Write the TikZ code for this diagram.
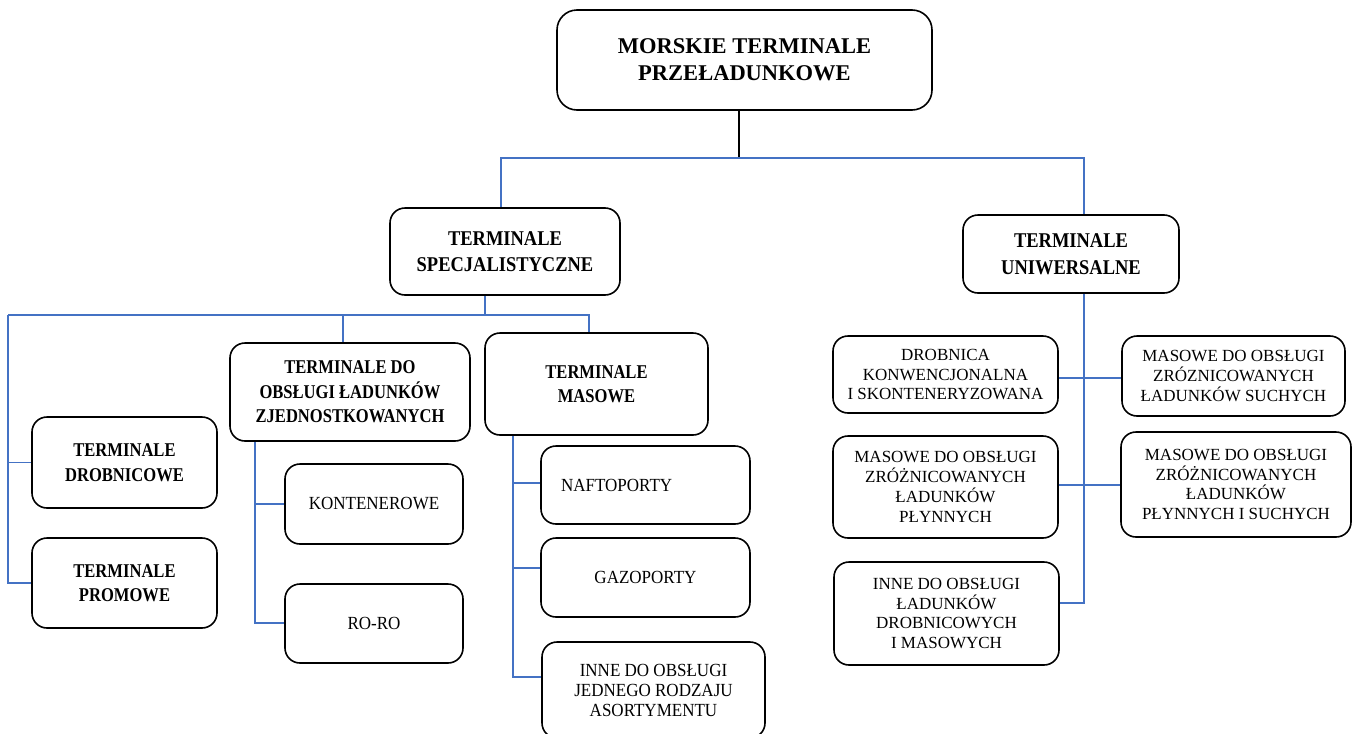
\documentclass[tikz,border=0pt]{standalone}
\usepackage{fontspec}
\setmainfont{Liberation Serif}
\newfontfamily\headfont[FakeStretch=0.88]{Liberation Serif}
\newfontfamily\lvlfont[FakeStretch=0.85]{Liberation Serif}
\newfontfamily\leftfont[FakeStretch=0.92]{Liberation Serif}
\definecolor{linkblue}{RGB}{68,114,196}
\tikzset{
  box/.style={draw, line width=1.6pt, rounded corners=15pt, align=center, inner sep=0pt,
    font=\fontsize{17}{19.8}\selectfont},
  leftbox/.style={box, font=\leftfont\fontsize{18.5}{20}\selectfont},
  boldbox/.style={box, font=\lvlfont\fontsize{19.5}{24.5}\selectfont\bfseries},
  headbox/.style={box, font=\headfont\fontsize{21}{26.5}\selectfont\bfseries},
  link/.style={draw=linkblue, line width=1.2pt},
}
\begin{document}
\begin{tikzpicture}[x=1pt,y=-1pt]
    \useasboundingbox (0,0) rectangle (1353,734);

    % Top
    \node[box, rounded corners=20pt, minimum width=375pt, minimum height=100pt,
      font=\fontsize{22.5}{27}\selectfont\bfseries] (main) at (744.5,60) {MORSKIE TERMINALE\\PRZEŁADUNKOWE};
    \node[headbox, minimum width=230pt, minimum height=87pt] (spec) at (505,251.5) {TERMINALE\\SPECJALISTYCZNE};
    \node[headbox, minimum width=216pt, minimum height=78pt] (uniw) at (1071,254) {TERMINALE\\UNIWERSALNE};

    % Specjalistyczne
    \node[boldbox, minimum width=185pt, minimum height=91pt] (drob) at (124.5,462.5) {TERMINALE\\DROBNICOWE};
    \node[boldbox, minimum width=185pt, minimum height=90pt] (prom) at (124.5,583) {TERMINALE\\PROMOWE};
    \node[boldbox, minimum width=240pt, minimum height=98pt] (zjed) at (350,392) {TERMINALE DO\\OBSŁUGI ŁADUNKÓW\\ZJEDNOSTKOWANYCH};
    \node[boldbox, minimum width=223pt, minimum height=102pt] (mas) at (596.5,384) {TERMINALE\\MASOWE};
    \node[leftbox, minimum width=178pt, minimum height=80pt] (kont) at (374,504) {KONTENEROWE};
    \node[leftbox, minimum width=178pt, minimum height=79pt] (roro) at (374,623.5) {RO-RO};
    \node[leftbox, minimum height=78pt, text width=169pt, inner xsep=20pt, align=left] (nafta) at (645.5,485) {NAFTOPORTY};
    \node[leftbox, minimum width=209pt, minimum height=79pt] (gaz) at (645.5,577.5) {GAZOPORTY};
    \node[leftbox, minimum width=223pt, minimum height=96pt] (jedn) at (653.5,690) {INNE DO OBSŁUGI\\JEDNEGO RODZAJU\\ASORTYMENTU};

    % Uniwersalne
    \node[box, minimum width=225pt, minimum height=77pt] (drobk) at (945.5,374.5) {DROBNICA\\KONWENCJONALNA\\I SKONTENERYZOWANA};
    \node[box, minimum width=223pt, minimum height=80pt] (msuch) at (1233.5,376) {MASOWE DO OBSŁUGI\\ZRÓZNICOWANYCH\\ŁADUNKÓW SUCHYCH};
    \node[box, minimum width=225pt, minimum height=102pt] (mplyn) at (945.5,487) {MASOWE DO OBSŁUGI\\ZRÓŻNICOWANYCH\\ŁADUNKÓW\\PŁYNNYCH};
    \node[box, minimum width=230pt, minimum height=105pt] (mboth) at (1236,484.5) {MASOWE DO OBSŁUGI\\ZRÓŻNICOWANYCH\\ŁADUNKÓW\\PŁYNNYCH I SUCHYCH};
    \node[box, minimum width=225pt, minimum height=103pt] (innem) at (946.5,613.5) {INNE DO OBSŁUGI\\ŁADUNKÓW\\DROBNICOWYCH\\I MASOWYCH};

    % Connectors
    \coordinate (top) at (739,158);
    \coordinate (sbus) at (485,315);
    \coordinate (lbus) at (8,315);
    \coordinate (zbus) at (255,623);
    \coordinate (mbus) at (513,677);
    \coordinate (ubus) at (1084,603);
    \draw[line width=1.2pt] (main.south -| top) -- (top);
    \draw[link] (spec.north -| 501,0) |- (top) -| (uniw.north -| 1084,0);
    \draw[link] (spec.south -| sbus) -- (sbus);
    \draw[link] (lbus) -| (mas.north -| 589,0);
    \draw[link] (zjed.north -| 343,0) -- (lbus -| 343,0);
    \draw[link] (lbus) |- (prom.west);
    \draw[link] (drob.west -| lbus) -- (drob.west);
    \draw[link] (zjed.south -| zbus) -- (zbus) -- (roro.west |- zbus);
    \draw[link] (kont.west -| zbus) -- (kont.west);
    \draw[link] (mas.south -| mbus) -- (mbus) -- (jedn.west |- mbus);
    \draw[link] (mbus |- 0,483) -- (nafta.west |- 0,483);
    \draw[link] (mbus |- 0,568) -- (gaz.west |- 0,568);
    \draw[link] (uniw.south -| ubus) -- (ubus) -- (innem.east |- ubus);
    \draw[link] (drobk.east |- 0,378) -- (msuch.west |- 0,378);
    \draw[link] (mplyn.east |- 0,485) -- (mboth.west |- 0,485);
\end{tikzpicture}
\end{document}
